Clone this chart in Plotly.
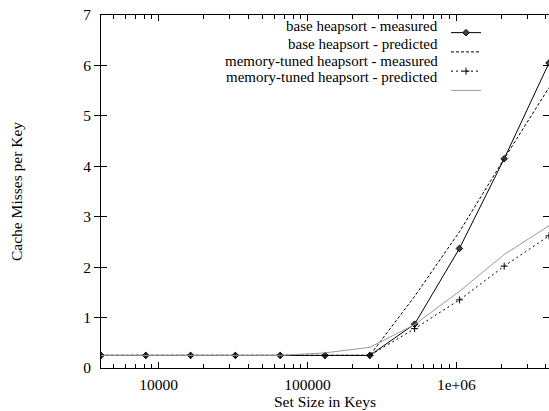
import numpy as np
import plotly.graph_objects as go

set_sizes = [4096, 8192, 16384, 32768, 65536, 131072, 262144, 524288, 1048576, 2097152, 4194304]
base_measured = [0.25, 0.25, 0.25, 0.25, 0.25, 0.25, 0.25, 0.87, 2.37, 4.15, 6.05]
base_predicted = [0.25, 0.25, 0.25, 0.25, 0.25, 0.25, 0.25, 1.42, 2.70, 4.15, 5.56]
tuned_measured = [0.25, 0.25, 0.25, 0.25, 0.25, 0.25, 0.25, 0.78, 1.35, 2.02, 2.62]
tuned_predicted = [0.25, 0.25, 0.25, 0.25, 0.25, 0.30, 0.41, 0.86, 1.52, 2.25, 2.82]

x_tickvals = [10000, 100000, 1000000]
x_ticktext = ["10000", "100000", "1e+06"]
y_tickvals = [0, 1, 2, 3, 4, 5, 6, 7]

legend_labels = [
    "base heapsort - measured",
    "base heapsort - predicted",
    "memory-tuned heapsort - measured",
    "memory-tuned heapsort - predicted",
]

FONT = "Liberation Serif, Times New Roman, serif"
FS = 15.5
W, H = 549, 411
ML, MR, MT, MB = 101, 0, 15, 43

fig = go.Figure()
fig.add_trace(go.Scatter(x=set_sizes, y=base_measured, mode="lines+markers", name=" ",
                         line=dict(color="black", width=1),
                         marker=dict(symbol="diamond", size=5, color="#444", line=dict(color="black", width=1))))
fig.add_trace(go.Scatter(x=set_sizes, y=base_predicted, mode="lines", name=" ",
                         line=dict(color="black", width=1, dash="3px,2px")))
fig.add_trace(go.Scatter(x=set_sizes, y=tuned_measured, mode="lines+markers", name=" ",
                         line=dict(color="black", width=1, dash="2px,3px"),
                         marker=dict(symbol="cross-thin", size=5, color="black", line=dict(color="black", width=1))))
fig.add_trace(go.Scatter(x=set_sizes, y=tuned_predicted, mode="lines", name=" ",
                         line=dict(color="#999", width=1)))

minor_vals = []
for e in range(3, 7):
    for m in range(2, 10):
        v = m * 10 ** e
        if 4096 <= v <= 4194304:
            minor_vals.append(v)

xrange = [np.log10(4096), np.log10(4194304)]
fig.update_layout(
    xaxis=dict(type="log", range=xrange,
               tickmode="array", tickvals=x_tickvals, ticktext=x_ticktext,
               ticks="inside", ticklen=6, tickcolor="black", tickwidth=1,
               showline=True, linecolor="black", linewidth=1, mirror="allticks",
               showgrid=False, zeroline=False, ticklabelstandoff=2,
               tickfont=dict(family=FONT, size=FS, color="black"),
               title=dict(text="Set Size in Keys", font=dict(family=FONT, size=FS, color="black"), standoff=3)),
    xaxis2=dict(type="log", range=xrange, overlaying="x", anchor="y", side="bottom",
                tickmode="array", tickvals=minor_vals, showticklabels=False,
                ticks="inside", ticklen=4, tickcolor="black", tickwidth=1,
                showline=False, mirror="allticks", showgrid=False, zeroline=False),
    yaxis=dict(range=[0, 7], tickmode="array", tickvals=y_tickvals,
               ticks="inside", ticklen=6, tickcolor="black", tickwidth=1,
               showline=True, linecolor="black", linewidth=1, mirror="allticks",
               showgrid=False, zeroline=False, ticklabelstandoff=6,
               tickfont=dict(family=FONT, size=FS, color="black"),
               title=dict(text="Cache Misses per Key", font=dict(family=FONT, size=FS, color="black"), standoff=56)),
)
# invisible helper trace to activate the minor-tick axis
fig.add_trace(go.Scatter(x=[set_sizes[0]], y=[base_measured[0]], xaxis="x2", mode="markers",
                         marker=dict(opacity=0), showlegend=False, hoverinfo="skip"))

plot_w = W - ML - MR
plot_h = H - MT - MB
row_y = [26.5, 43.5, 60.5, 77.5]
annotations = []
for lab, yy in zip(legend_labels, row_y):
    annotations.append(dict(text=lab, xref="paper", yref="paper",
                            x=(440 - ML) / plot_w, y=1 - (yy - MT) / plot_h,
                            xanchor="right", yanchor="middle", showarrow=False,
                            font=dict(family=FONT, size=15, color="black")))

fig.update_layout(width=W, height=H, margin=dict(l=ML, r=MR, t=MT, b=MB),
                  paper_bgcolor="white", plot_bgcolor="white",
                  font=dict(family=FONT, size=FS, color="black"),
                  annotations=annotations,
                  showlegend=True,
                  legend=dict(x=(446 - ML) / plot_w, y=1 - (18 - MT) / plot_h, xanchor="left", yanchor="top",
                              bgcolor="rgba(0,0,0,0)", borderwidth=0, itemwidth=30,
                              font=dict(family=FONT, size=12.5), tracegroupgap=0))

fig.write_html("out.html")
